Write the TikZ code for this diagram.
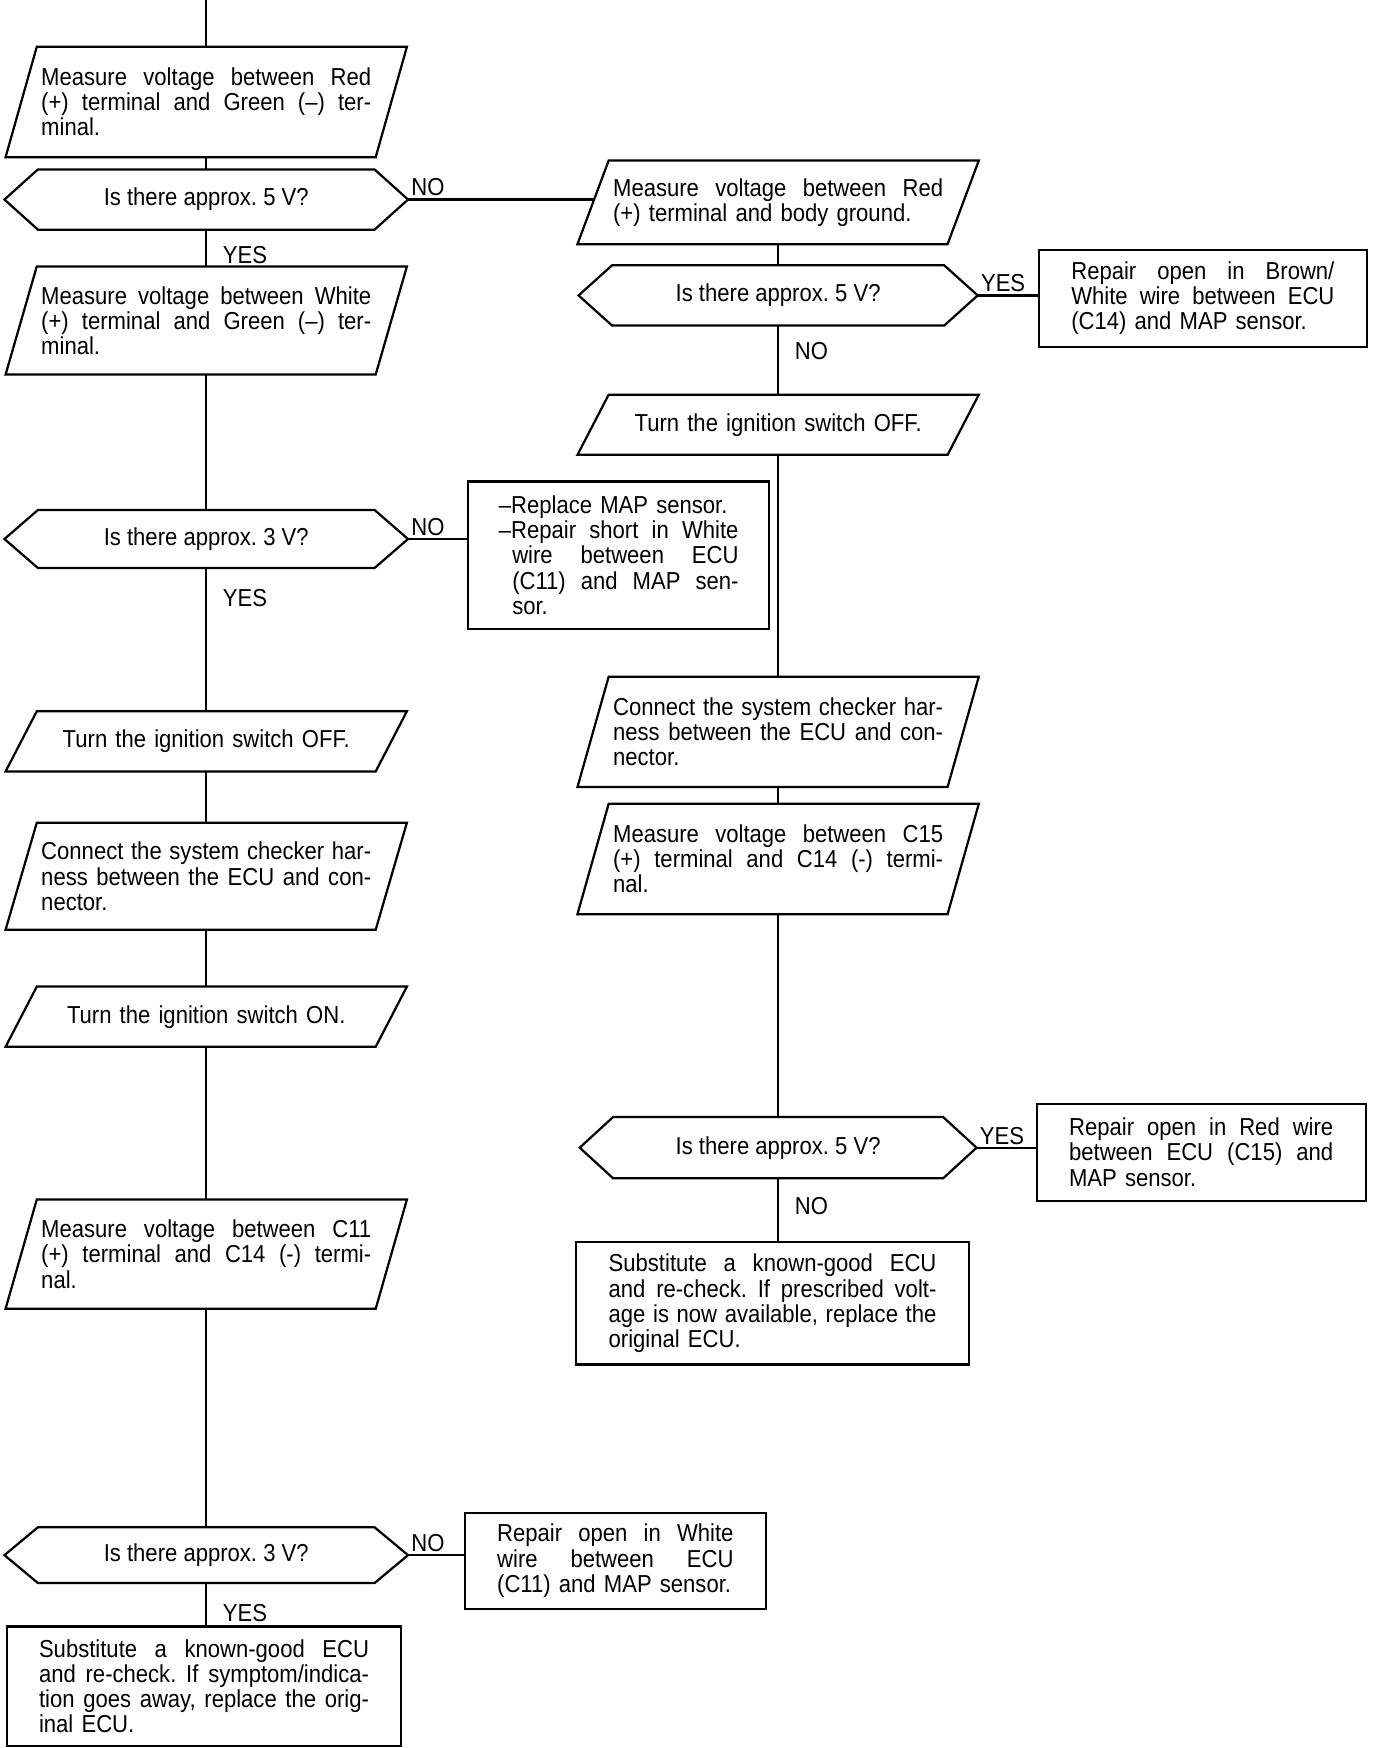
\documentclass[tikz,border=0pt]{standalone}
\usepackage{fontspec}
\setmainfont{Liberation Sans}[FakeStretch=0.9]
\usetikzlibrary{positioning,calc}
\setlength{\parindent}{0pt}
% one justified line, optionally indented
\newcommand{\jl}[2][0pt]{\hspace*{#1}\makebox[\dimexpr\hsize-#1\relax][s]{\spaceskip=0pt\xspaceskip=0pt #2}}
\tikzset{
  io/.style={inner sep=0pt, minimum width=179pt, minimum height=#1, text width=148pt, align=left},
  choice/.style={inner sep=0pt, minimum width=180pt, minimum height=#1, align=center},
  act/.style={draw, inner sep=0pt, align=left},
  lbl/.style={inner sep=1pt}
}

\begin{document}
\begin{tikzpicture}[x=0.5pt,y=-0.5pt,line width=1pt,font=\fontsize{11}{11.25}\selectfont\frenchspacing]
\useasboundingbox (0,0) rectangle (1248.7,1568);
\coordinate (start) at (185,0);

% left column
\node [io=48.5pt] (mRedGrn) at (185,91.5) {\jl{Measure voltage between Red}\\ \jl{(+) terminal and Green (--) ter-}\\ minal.};
\node [choice=26pt] (qFiveA) at (185,179) {Is there approx. 5 V?};
\node [io=47.5pt] (mWhtGrn) at (185,287.5) {\jl{Measure voltage between White}\\ \jl{(+) terminal and Green (--) ter-}\\ minal.};
\node [choice=25pt] (qThreeA) at (185,483.5) {Is there approx. 3 V?};
\node [io=26pt, align=center] (offA) at (185,665) {Turn the ignition switch OFF.};
\node [io=47pt] (harnA) at (185,786) {\jl{Connect the system checker har-}\\ \jl{ness between the ECU and con-}\\ nector.};
\node [io=26pt, align=center] (onA) at (185,912) {Turn the ignition switch ON.};
\node [io=48pt] (mC11) at (185,1125) {\jl{Measure voltage between C11}\\ \jl{(+) terminal and C14 (-) termi-}\\ nal.};
\node [choice=24pt] (qThreeB) at (185,1395) {Is there approx. 3 V?};
\node [act, minimum width=177pt, minimum height=53.5pt, text width=148pt] (subA) at (183,1512.5) {\jl{Substitute a known-good ECU}\\ \jl{and re-check. If symptom/indica-}\\ \jl{tion goes away, replace the orig-}\\ inal ECU.};

% right column
\node [io=36.5pt] (mRedGnd) at (698,181.5) {\jl{Measure voltage between Red}\\ (+) terminal and body ground.};
\node [choice=26pt, minimum width=178pt] (qFiveB) at (698,265) {Is there approx. 5 V?};
\node [io=26pt, align=center] (offB) at (698,381) {Turn the ignition switch OFF.};
\node [io=48.5pt] (harnB) at (698,656.5) {\jl{Connect the system checker har-}\\ \jl{ness between the ECU and con-}\\ nector.};
\node [io=48.5pt] (mC15) at (698,770.5) {\jl{Measure voltage between C15}\\ \jl{(+) terminal and C14 (-) termi-}\\ nal.};
\node [choice=26.5pt, minimum width=177pt] (qFiveC) at (698,1029.5) {Is there approx. 5 V?};
\node [act, minimum width=176.5pt, minimum height=55pt, text width=147pt] (subB) at (693,1169) {\jl{Substitute a known-good ECU}\\ \jl{and re-check. If prescribed volt-}\\ \jl{age is now available, replace the}\\ original ECU.};

% side boxes
\node [act, minimum width=135pt, minimum height=66pt, text width=107.5pt] (fixShort) at (555,498) {--Replace MAP sensor.\\ \jl{--Repair short in White}\\ \jl[6pt]{wire between ECU}\\ \jl[6pt]{(C11) and MAP sen-}\\ \hspace*{6pt}sor.};
\node [act, minimum width=147pt, minimum height=43.5pt, text width=118pt] (fixBrown) at (1079,267.5) {\jl{Repair open in Brown/}\\ \jl{White wire between ECU}\\ (C14) and MAP sensor.};
\node [act, minimum width=147.5pt, minimum height=43.5pt, text width=118.5pt] (fixRed) at (1077.5,1033.5) {\jl{Repair open in Red wire}\\ \jl{between ECU (C15) and}\\ MAP sensor.};
\node [act, minimum width=135pt, minimum height=43pt, text width=106pt] (fixWhite) at (552,1400) {\jl{Repair open in White}\\ \jl{wire between ECU}\\ (C11) and MAP sensor.};

% outlines
\foreach \n in {mRedGrn,mWhtGrn,offA,harnA,onA,mC11,mRedGnd,offB,harnB,mC15}
  \draw ([xshift=14pt]\n.north west) -- (\n.north east) -- ([xshift=-14pt]\n.south east) -- (\n.south west) -- cycle;
\foreach \n in {qFiveA,qThreeA,qThreeB,qFiveB,qFiveC}
  \draw (\n.west) -- ([xshift=15pt]\n.north west) -- ([xshift=-15pt]\n.north east) -- (\n.east) -- ([xshift=-15pt]\n.south east) -- ([xshift=15pt]\n.south west) -- cycle;

% connectors
\draw (start) -- (mRedGrn.north);
\draw (mRedGrn.south) -- (qFiveA.north);
\draw (qFiveA.south) -- (mWhtGrn.north);
\draw (mWhtGrn.south) -- (qThreeA.north);
\draw (qThreeA.south) -- (offA.north);
\draw (offA.south) -- (harnA.north);
\draw (harnA.south) -- (onA.north);
\draw (onA.south) -- (mC11.north);
\draw (mC11.south) -- (qThreeB.north);
\draw (qThreeB.south) -- (qThreeB.south |- subA.north);
\draw (qFiveA.east) -- ([xshift=7.5pt]qFiveA.east -| mRedGnd.west);
\draw (qThreeA.east) -- (qThreeA.east -| fixShort.west);
\draw (qThreeB.east) -- (qThreeB.east -| fixWhite.west);
\draw (mRedGnd.south) -- (qFiveB.north);
\draw (qFiveB.east) -- (qFiveB.east -| fixBrown.west);
\draw (qFiveB.south) -- (offB.north);
\draw (offB.south) -- (harnB.north);
\draw (harnB.south) -- (mC15.north);
\draw (mC15.south) -- (qFiveC.north);
\draw (qFiveC.east) -- (qFiveC.east -| fixRed.west);
\draw (qFiveC.south) -- (qFiveC.south |- subB.north);

% branch labels
\node [lbl, anchor=south west] (noA) at (qFiveA.east) {NO};
\node [lbl, anchor=north west] (yesA) at ([xshift=6pt,yshift=-6pt]qFiveA.south) {YES};
\node [lbl, anchor=south west] (noB) at (qThreeA.east) {NO};
\node [lbl, anchor=north west] (yesB) at ([xshift=6pt,yshift=-8pt]qThreeA.south) {YES};
\node [lbl, anchor=south west] (noC) at (qThreeB.east) {NO};
\node [lbl, anchor=north west] (yesC) at ([xshift=6pt,yshift=-8pt]qThreeB.south) {YES};
\node [lbl, anchor=south west] (yesD) at (qFiveB.east) {YES};
\node [lbl, anchor=north west] (noD) at ([xshift=6pt,yshift=-6pt]qFiveB.south) {NO};
\node [lbl, anchor=south west] (yesE) at (qFiveC.east) {YES};
\node [lbl, anchor=north west] (noE) at ([xshift=6pt,yshift=-7pt]qFiveC.south) {NO};
\end{tikzpicture}
\end{document}
